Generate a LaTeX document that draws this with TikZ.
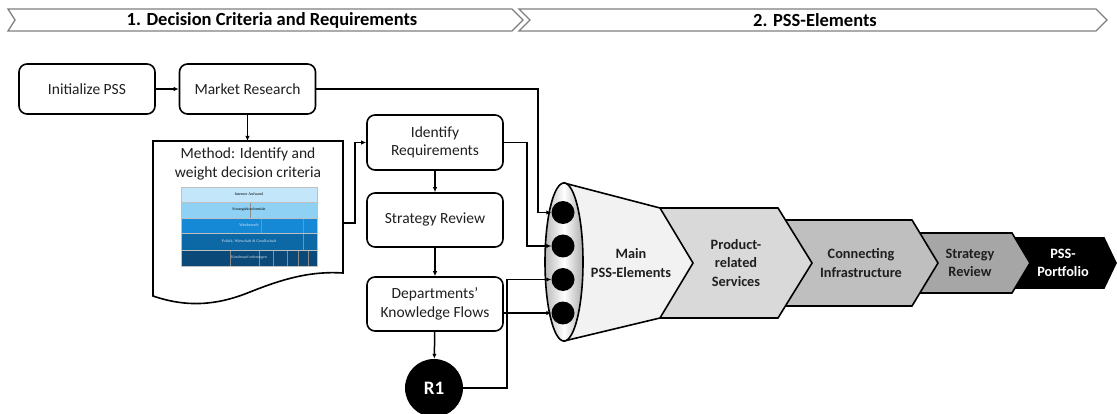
\documentclass[tikz,border=0pt]{standalone}
\usepackage{fontspec}
\setmainfont{Carlito}
\newfontfamily\tabfont{Liberation Serif}
\usetikzlibrary{arrows.meta,calc}

\definecolor{txt}{HTML}{1F1F1F}
\definecolor{banner}{HTML}{7F7F7F}
\definecolor{funnelbody}{HTML}{F2F2F2}
\definecolor{prsfill}{HTML}{D9D9D9}
\definecolor{cifill}{HTML}{BFBFBF}
\definecolor{srfill}{HTML}{A6A6A6}
\definecolor{rowa}{HTML}{C3E6FA}
\definecolor{rowb}{HTML}{8ED1F5}
\definecolor{rowc}{HTML}{1689D6}
\definecolor{rowd}{HTML}{0D68A6}
\definecolor{rowe}{HTML}{0B4A78}

\begin{document}
\begin{tikzpicture}[x=1pt,y=-1pt,
  proc/.style={draw=black, line width=1.6pt, rounded corners=8pt,
    minimum width=136pt, minimum height=52pt, inner sep=0pt,
    align=center, text=txt, font=\fontsize{15.5}{18.5}\selectfont},
  conn/.style={line width=1.5pt, -{Latex[length=5pt,width=4.5pt]}},
  bannerbox/.style={draw=banner, line width=1.3pt, fill=white},
  bannertext/.style={font=\bfseries\fontsize{18.5}{18.5}\selectfont, text=black},
  chev/.style={draw=black, line width=1.6pt},
  chevtext/.style={align=center, text=txt, font=\bfseries\fontsize{14.3}{18.5}\selectfont},
  port/.style={circle, fill=black, minimum size=23pt, inner sep=0pt},
  tabrow/.style={draw=black!25, line width=0.3pt},
  tabtext/.style={font=\tabfont\fontsize{4}{4}\selectfont},
  tabdiv/.style={draw=black!45, line width=0.4pt}]

\useasboundingbox (0,0) rectangle (1117,414);

% ---- phase banners ----
\draw[bannerbox] (8,9) -- (512,9) -- (523,20) -- (512,31) -- (8,31) -- (15,20) -- cycle;
\draw[bannerbox] (519,9) -- (1096,9) -- (1107,20) -- (1096,31) -- (519,31) -- (530,20) -- cycle;
\node[bannertext] (b1) at (272,20) {1. Decision Criteria and Requirements};
\node[bannertext] (b2) at (815,20) {2. PSS-Elements};

% ---- process steps ----
\node[proc, minimum width=136pt, minimum height=50pt] (init) at (87,89) {Initialize PSS};
\node[proc, minimum width=136pt, minimum height=50pt] (mr) at (247.5,89) {Market Research};
\node[proc, minimum height=55pt] (ir) at (435,142.5) {Identify\\Requirements};
\node[proc, minimum height=54pt] (sr) at (435,220) {Strategy Review};
\node[proc, minimum height=54pt] (dkf) at (435,304) {Departments'\\Knowledge Flows};
\node[circle, fill=black, minimum size=58pt, inner sep=0pt, text=white,
  font=\bfseries\fontsize{19}{19}\selectfont] (r1) at (434,388) {R1};

% ---- method document ----
\draw[line width=1.6pt, fill=white]
  (153,141) -- (343,141) -- (343,273)
  .. controls (312,271) and (285,278) .. (250,292)
  .. controls (218,305) and (188,308) .. (153,296) -- cycle;
\coordinate (methT) at (247.5,141);
\coordinate (methR) at (343,223);
\node[align=center, text=txt, font=\fontsize{15.5}{18.5}\selectfont] (meth) at (248,164)
  {Method: Identify and\\weight decision criteria};

% decision criteria table
\fill[rowa] (181,187) rectangle (317,202);
\fill[rowb] (181,202) rectangle (317,218);
\fill[rowc] (181,218) rectangle (317,233);
\fill[rowd] (181,233) rectangle (317,250);
\fill[rowe] (181,250) rectangle (317,266);
\draw[tabdiv] (250,202) -- (250,218);
\draw[tabdiv] (261,218) -- (261,233) (303,218) -- (303,250);
\foreach \xx in {230,259,273,287,298,308} \draw[tabdiv] (\xx,250) -- (\xx,266);
\foreach \yy in {202,218,233,250} \draw[tabrow] (181,\yy) -- (317,\yy);
\draw[tabrow] (181,187) rectangle (317,266);
\node[tabtext, text=black] (t1) at (249,194.5) {Interner Aufwand};
\node[tabtext, text=black] (t2) at (249,210) {Strategiekonformität};
\node[tabtext, text=white!85!rowc] (t3) at (249,225.5) {Wettbewerb};
\node[tabtext, text=white!85!rowd] (t4) at (249,241.5) {Politik, Wirtschaft \& Gesellschaft};
\node[tabtext, text=white!80!rowe] (t5) at (249,258) {Kundenanforderungen};

% ---- PSS element chevrons (back to front) ----
\draw[chev, fill=black] (1014,238) -- (1104,238) -- (1116,263) -- (1104,288) -- (1014,288) -- cycle;
\draw[chev, fill=srfill] (918,233) -- (1012,233) -- (1030,263) -- (1012,293) -- (918,293) -- cycle;
\draw[chev, fill=cifill] (784,220) -- (912,220) -- (938,263) -- (912,306) -- (784,306) -- cycle;
\draw[chev, fill=prsfill] (658,208) -- (778,208) -- (812,263) -- (778,318) -- (658,318) -- cycle;

% funnel body and opening
\draw[chev, fill=funnelbody] (564,183) -- (660,208) -- (693,263) -- (660,318) -- (564,341) -- cycle;
\path[left color=gray!55, right color=gray!65, middle color=white]
  (564,262) ellipse [x radius=19, y radius=79];
\draw[line width=1.6pt] (564,262) ellipse [x radius=19, y radius=79];

\node[chevtext] (main) at (631,263) {Main\\PSS-Elements};
\node[chevtext] (prs) at (736,263) {Product-\\related\\Services};
\node[chevtext] (ci) at (861,263) {Connecting\\Infrastructure};
\node[chevtext] (srv) at (970,263) {Strategy\\Review};
\node[chevtext, text=white] (pf) at (1063,263) {PSS-\\Portfolio};

% input ports of the funnel
\node[port] (c1) at (563,212.5) {};
\node[port] (c2) at (563,246) {};
\node[port] (c3) at (563,279.5) {};
\node[port] (c4) at (563,313) {};

% ---- connectors ----
\draw[conn] (init) -- (mr);
\draw[conn] (mr.south) -- (methT);
\draw[conn] (methR) -- (355,223) |- (ir.west);
\draw[conn] (ir) -- (sr);
\draw[conn] (sr) -- (dkf);
\draw[conn] (dkf) -- (r1);
\draw[conn] (mr.east) -- (538,89) |- (c1.west);
\draw[conn] (ir.east) -- (527,142.5) |- (c2.west);
\draw[conn] (r1.east) -| (507,279.5) -- (c3.west);
\draw[conn] (dkf.east |- c4) -- (c4.west);

\end{tikzpicture}
\end{document}
